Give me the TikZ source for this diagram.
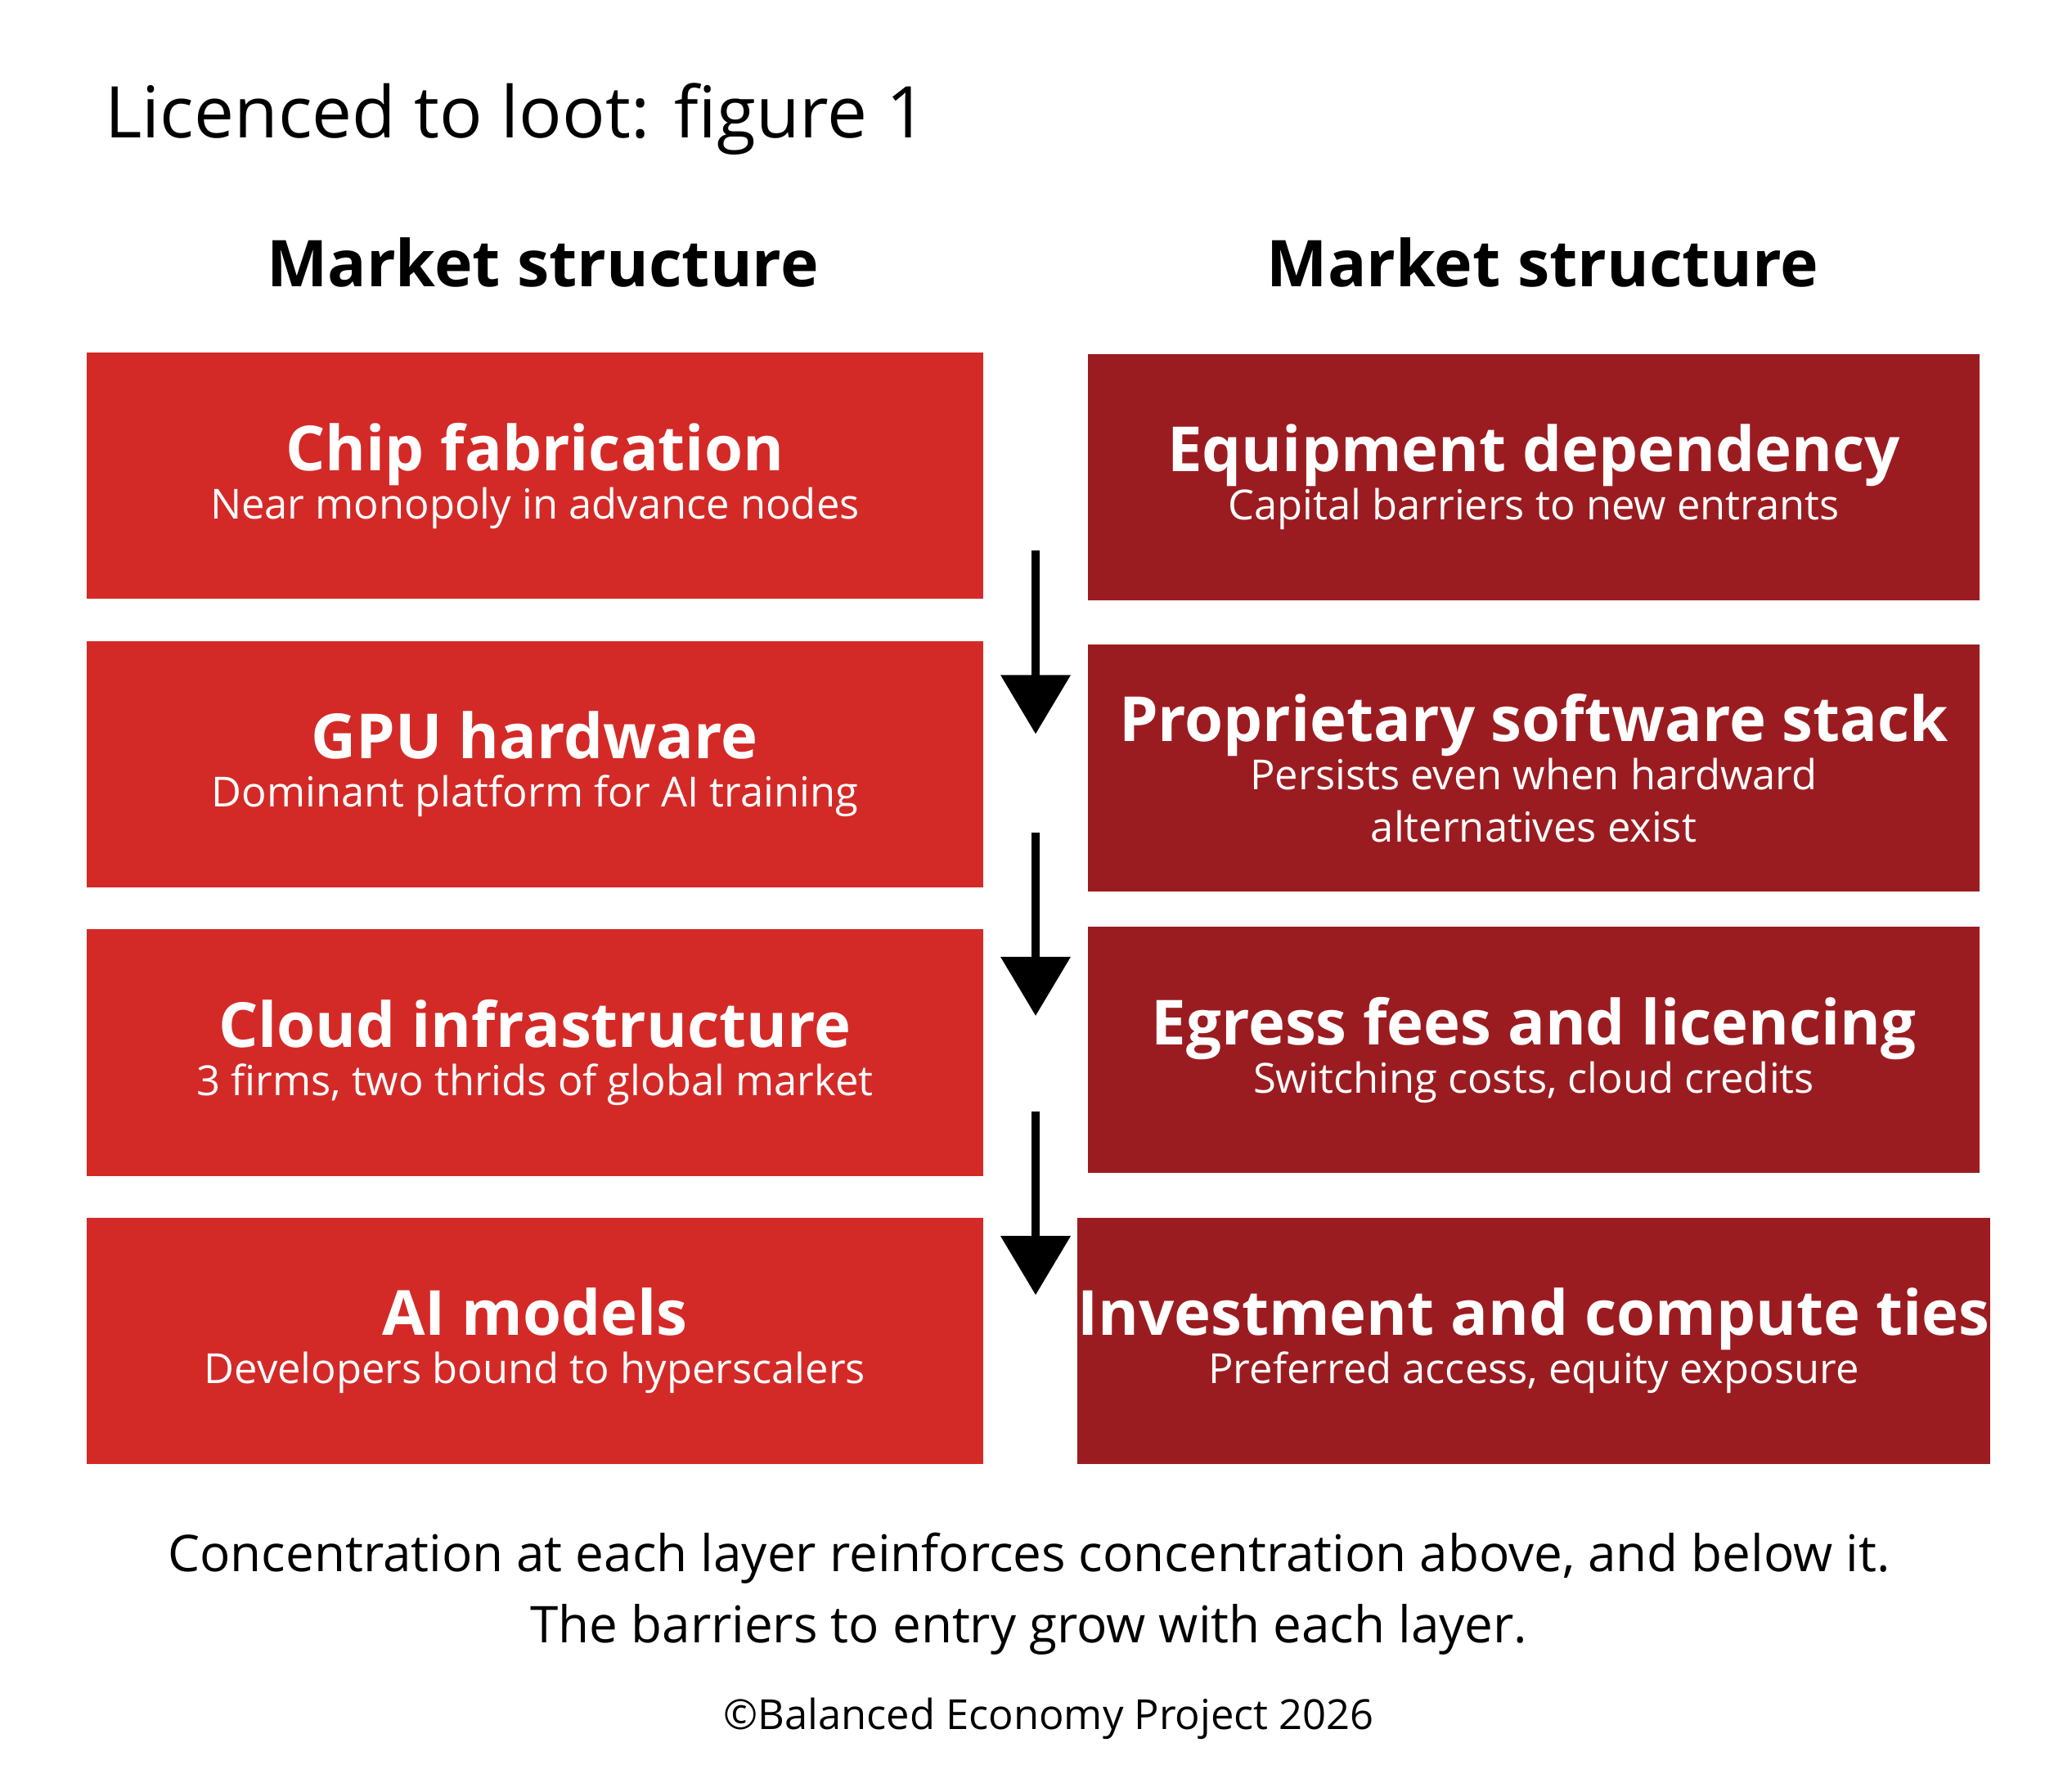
\documentclass[tikz,border=0pt]{standalone}
\usepackage{fontspec}
\setmainfont{Open Sans}
\usetikzlibrary{arrows.meta}
\definecolor{layerred}{HTML}{D42A27}
\definecolor{barrierred}{HTML}{9B1C20}
\tikzset{
  layer/.style={fill=layerred, minimum width=684*0.02cm, minimum height=188*0.02cm, inner sep=0pt, text=white, align=center, font=\fontsize{18}{23}\selectfont},
  barrier/.style={layer, fill=barrierred, minimum width=680*0.02cm},
  head/.style={font=\fontsize{28}{34}\selectfont\bfseries},
  down/.style={-{Triangle[width=52*0.02cm, length=45*0.02cm]}, line width=6*0.02cm, black}
}
\newcommand{\boxtext}[2]{{\fontsize{27}{32}\selectfont\bfseries #1}\\[-2pt] #2}
\begin{document}
\begin{tikzpicture}[x=0.02cm, y=-0.02cm]
\useasboundingbox (0,0) rectangle (1560,1367);
\node[anchor=base west, font=\fontsize{31}{36}\selectfont] (title) at (74,105) {Licenced to loot: figure 1};
\node[head] (headL) at (414,200) {Market structure};
\node[head] (headR) at (1177,200) {Market structure};

\node[layer] (chip) at (408,363) {\boxtext{Chip fabrication}{Near monopoly in advance nodes}};
\node[layer] (gpu) at (408,583) {\boxtext{GPU hardware}{Dominant platform for AI training}};
\node[layer] (cloud) at (408,803) {\boxtext{Cloud infrastructure}{3 firms, two thrids of global market}};
\node[layer] (models) at (408,1023) {\boxtext{AI models}{Developers bound to hyperscalers}};

\node[barrier] (equip) at (1170,364) {\boxtext{Equipment dependency}{Capital barriers to new entrants}};
\node[barrier] (soft) at (1170,586) {\boxtext{Proprietary software stack}{Persists even when hardward\\alternatives exist}};
\node[barrier] (egress) at (1170,801) {\boxtext{Egress fees and licencing}{Switching costs, cloud credits}};
\node[barrier] (invest) at (1170,1023) {\boxtext{Investment and compute ties}{Preferred access, equity exposure}};

\coordinate (a1) at (790,420); \coordinate (b1) at (790,560);
\coordinate (a2) at (790,635); \coordinate (b2) at (790,775);
\coordinate (a3) at (790,848); \coordinate (b3) at (790,988);
\draw[down] (a1) -- (b1);
\draw[down] (a2) -- (b2);
\draw[down] (a3) -- (b3);

\node[align=center, font=\fontsize{22}{31}\selectfont] (note) at (785,1216) {Concentration at each layer reinforces concentration above, and below it.\\The barriers to entry grow with each layer.};
\node[font=\fontsize{18}{22}\selectfont] (copy) at (800,1311) {©Balanced Economy Project 2026};
\end{tikzpicture}
\end{document}
